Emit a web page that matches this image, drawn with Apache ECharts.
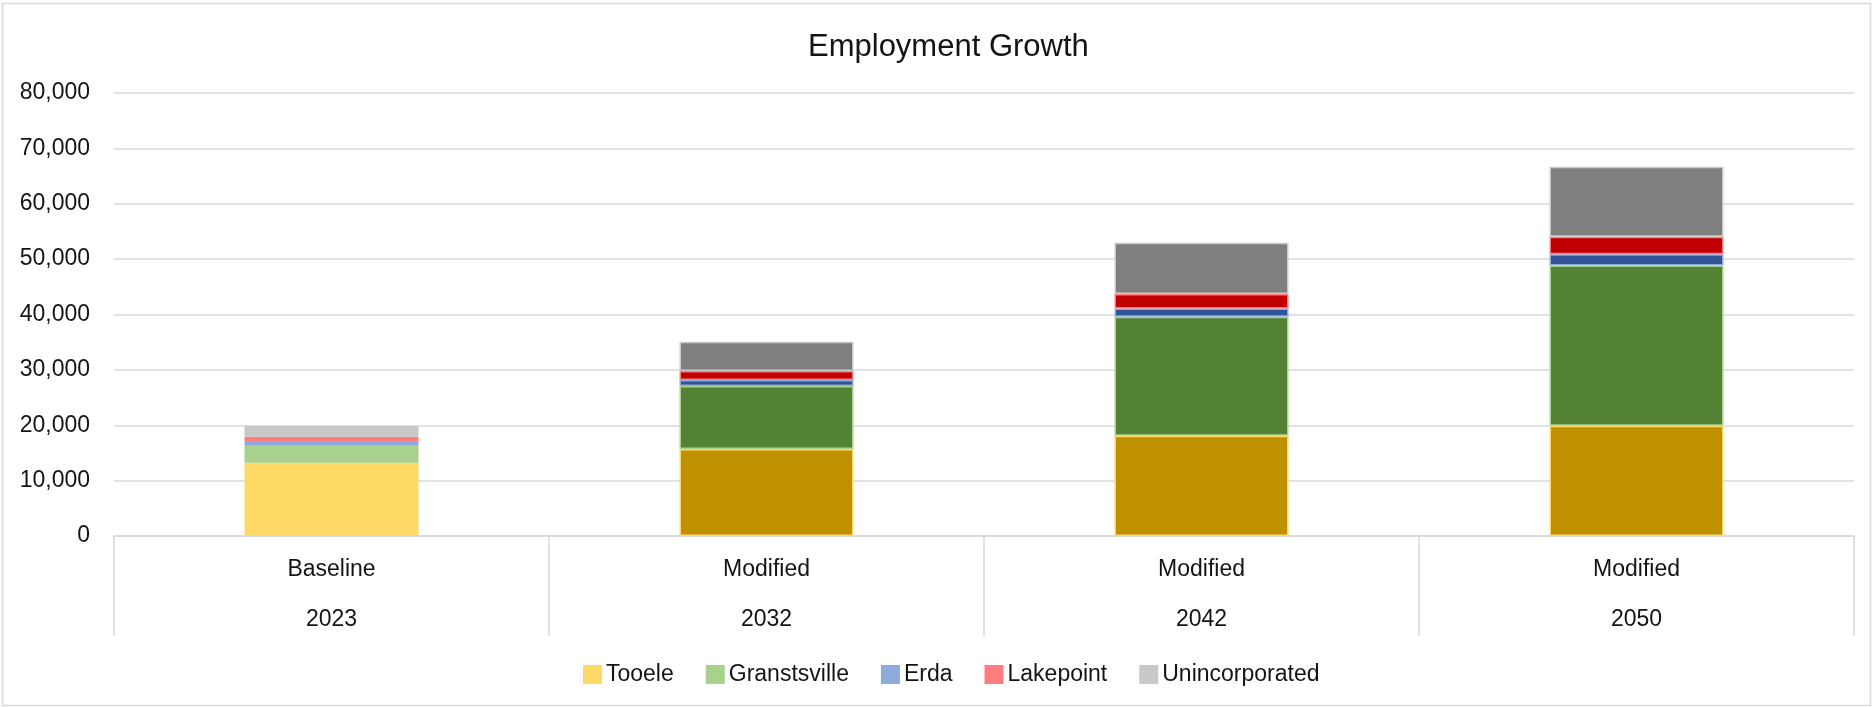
<!DOCTYPE html>
<html>
<head>
<meta charset="utf-8">
<script src="https://cdn.jsdelivr.net/npm/echarts@6/dist/echarts.min.js"></script>
<style>
  html, body { margin: 0; padding: 0; background: #ffffff; }
  #chart { width: 1874px; height: 707px; }
</style>
</head>
<body>
<div id="chart"></div>
<script>
// ---- Data ----
const scenarios = ['Baseline', 'Modified', 'Modified', 'Modified'];
const years = ['2023', '2032', '2042', '2050'];
const seriesNames = ['Tooele', 'Granstsville', 'Erda', 'Lakepoint', 'Unincorporated'];
const tooele = [13230, 15700, 18100, 19910];
const granstsville = [3070, 11380, 21480, 28950];
const erda = [850, 1080, 1520, 2040];
const lakepoint = [770, 1620, 2580, 3130];
const unincorporated = [1940, 5290, 9260, 12630];
const yTicks = [0, 10000, 20000, 30000, 40000, 50000, 60000, 70000, 80000];

// ---- Styles ----
const lightColors = ['#FFD966', '#A9D18E', '#8FAADC', '#FF7C80', '#C9C9C9'];
const darkColors = ['#BF9000', '#548235', '#2F5597', '#C00000', '#7F7F7F'];
const values = [tooele, granstsville, erda, lakepoint, unincorporated];
const FONT = 'Liberation Sans';
const TXT = '#141414';

const categories = years.map((y, i) => scenarios[i] + '\n' + y);

const series = seriesNames.map((name, s) => ({
  name: name,
  type: 'bar',
  stack: 'total',
  barWidth: '40%',
  itemStyle: { color: lightColors[s], borderColor: lightColors[s], borderWidth: 1.5 },
  data: values[s].map((v, i) => i === 0 ? v : { value: v, itemStyle: { color: darkColors[s] } })
}));

const chart = echarts.init(document.getElementById('chart'), null, { renderer: 'canvas' });
chart.setOption({
  animation: false,
  backgroundColor: '#ffffff',
  textStyle: { fontFamily: FONT },
  graphic: [{
    type: 'rect',
    shape: { x: 2.5, y: 3.5, width: 1868, height: 702 },
    style: { fill: null, stroke: '#D9D9D9', lineWidth: 1.5 },
    silent: true, z: -1
  }],
  title: {
    text: 'Employment Growth',
    left: 803,
    top: 27,
    textStyle: { fontFamily: FONT, fontSize: 31, fontWeight: 'normal', color: TXT }
  },
  legend: {
    data: seriesNames,
    left: 578,
    top: 658,
    icon: 'rect',
    itemWidth: 17,
    itemHeight: 17,
    itemGap: 32,
    textStyle: { fontFamily: FONT, fontSize: 23, color: TXT },
    selectedMode: false
  },
  grid: { left: 114, right: 20, top: 93, bottom: 171, containLabel: false },
  xAxis: {
    type: 'category',
    data: categories,
    boundaryGap: true,
    axisLine: { show: true, lineStyle: { color: '#D9D9D9', width: 1.5 } },
    axisTick: { show: true, interval: 0, length: 100, lineStyle: { color: '#D9D9D9', width: 1.5 } },
    axisLabel: { interval: 0, margin: 9, fontFamily: FONT, fontSize: 23, color: TXT, lineHeight: 50 }
  },
  yAxis: {
    type: 'value',
    min: yTicks[0],
    max: yTicks[yTicks.length - 1],
    interval: yTicks[1] - yTicks[0],
    axisLine: { show: false },
    axisTick: { show: false },
    splitLine: { lineStyle: { color: '#D9D9D9', width: 1.5 } },
    axisLabel: {
      margin: 24,
      fontFamily: FONT, fontSize: 23, color: TXT,
      formatter: v => v.toLocaleString('en-US')
    }
  },
  series: series
});
</script>
</body>
</html>
